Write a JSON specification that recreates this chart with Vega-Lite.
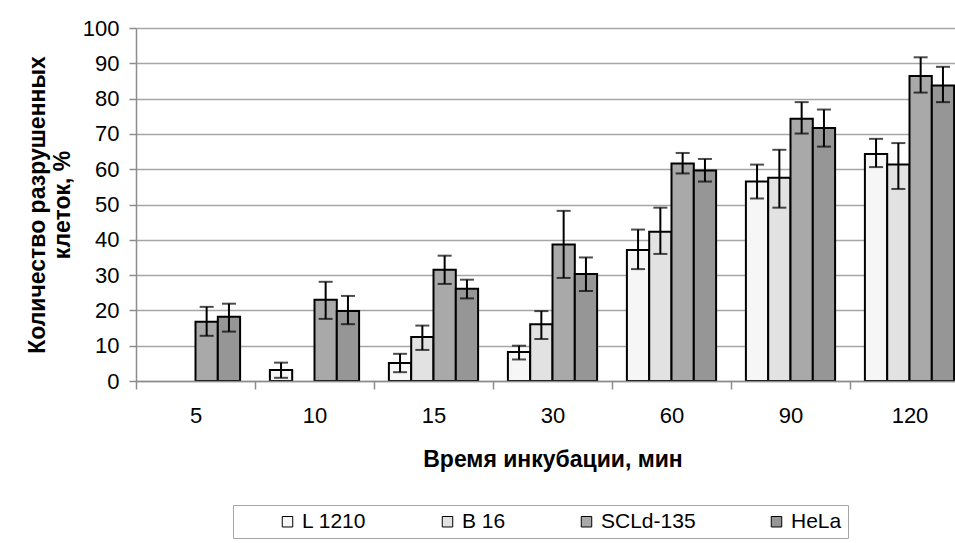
{
  "$schema": "https://vega.github.io/schema/vega-lite/v6.json",
  "width": 819,
  "height": 353,
  "autosize": {"type": "none"},
  "padding": {"left": 136, "top": 28, "right": 0, "bottom": 162},
  "background": "white",
  "config": {
    "font": "Liberation Sans",
    "view": {"stroke": null},
    "axis": {"labelFont": "Liberation Sans", "titleFont": "Liberation Sans", "labelColor": "black", "titleColor": "black"},
    "axisY": {
      "titleFontSize": 23,
      "titleFontWeight": "bold",
      "titlePadding": 8,
      "titleLineHeight": 25,
      "labelFontSize": 22,
      "labelPadding": 10,
      "labelOverlap": false,
      "tickSize": 7,
      "tickColor": "#8c8c8c",
      "tickWidth": 1.5,
      "domainColor": "#8c8c8c",
      "domainWidth": 1.5,
      "gridColor": "#a6a6a6",
      "gridWidth": 1.5
    }
  },
  "data": {
    "values": [
      {"time": 5, "cell": "SCLd-135", "value": 16.8, "lo": 12.8, "hi": 21.0},
      {"time": 5, "cell": "HeLa", "value": 18.2, "lo": 14.0, "hi": 21.9},
      {"time": 10, "cell": "L 1210", "value": 3.1, "lo": 0.9, "hi": 5.2},
      {"time": 10, "cell": "SCLd-135", "value": 23.0, "lo": 17.6, "hi": 28.1},
      {"time": 10, "cell": "HeLa", "value": 19.8, "lo": 16.1, "hi": 24.1},
      {"time": 15, "cell": "L 1210", "value": 5.1, "lo": 2.5, "hi": 7.7},
      {"time": 15, "cell": "B 16", "value": 12.5, "lo": 8.8, "hi": 15.7},
      {"time": 15, "cell": "SCLd-135", "value": 31.5, "lo": 27.5, "hi": 35.5},
      {"time": 15, "cell": "HeLa", "value": 26.1, "lo": 23.4, "hi": 28.7},
      {"time": 30, "cell": "L 1210", "value": 8.2, "lo": 6.1, "hi": 10.0},
      {"time": 30, "cell": "B 16", "value": 16.1, "lo": 11.9, "hi": 19.8},
      {"time": 30, "cell": "SCLd-135", "value": 38.7, "lo": 29.2, "hi": 48.2},
      {"time": 30, "cell": "HeLa", "value": 30.3, "lo": 25.5, "hi": 35.0},
      {"time": 60, "cell": "L 1210", "value": 37.1, "lo": 31.7, "hi": 42.9},
      {"time": 60, "cell": "B 16", "value": 42.3, "lo": 36.0, "hi": 49.1},
      {"time": 60, "cell": "SCLd-135", "value": 61.6, "lo": 58.8, "hi": 64.6},
      {"time": 60, "cell": "HeLa", "value": 59.6, "lo": 56.5, "hi": 62.9},
      {"time": 90, "cell": "L 1210", "value": 56.5, "lo": 51.7, "hi": 61.3},
      {"time": 90, "cell": "B 16", "value": 57.6, "lo": 49.1, "hi": 65.5},
      {"time": 90, "cell": "SCLd-135", "value": 74.3, "lo": 70.1, "hi": 79.0},
      {"time": 90, "cell": "HeLa", "value": 71.7, "lo": 66.4, "hi": 76.9},
      {"time": 120, "cell": "L 1210", "value": 64.3, "lo": 60.6, "hi": 68.6},
      {"time": 120, "cell": "B 16", "value": 61.3, "lo": 54.4, "hi": 67.4},
      {"time": 120, "cell": "SCLd-135", "value": 86.4, "lo": 81.7, "hi": 91.7},
      {"time": 120, "cell": "HeLa", "value": 83.7, "lo": 79.0, "hi": 89.0}
    ]
  },
  "encoding": {
    "x": {
      "field": "time",
      "type": "ordinal",
      "scale": {"range": [0, 833], "paddingInner": 0, "paddingOuter": 0},
      "axis": {
        "title": "Время инкубации, мин",
        "titleFontSize": 23,
        "titleFontWeight": "bold",
        "titlePadding": 22,
        "labelFontSize": 22,
        "labelAngle": 0,
        "labelPadding": 16,
        "tickBand": "extent",
        "tickSize": 8,
        "tickColor": "#8c8c8c",
        "tickWidth": 1.5,
        "domainColor": "#8c8c8c",
        "domainWidth": 1.5,
        "grid": false,
        "zindex": 1
      }
    },
    "xOffset": {
      "field": "cell",
      "type": "nominal",
      "scale": {"domain": ["L 1210", "B 16", "SCLd-135", "HeLa"], "paddingInner": 0, "paddingOuter": 0.668}
    }
  },
  "layer": [
    {
      "mark": {"type": "bar", "stroke": "black", "strokeWidth": 2},
      "encoding": {
        "y": {
          "field": "value",
          "type": "quantitative",
          "scale": {"domain": [0, 100], "nice": false},
          "axis": {"title": ["Количество разрушенных", "клеток, %"], "values": [0, 10, 20, 30, 40, 50, 60, 70, 80, 90, 100]}
        },
        "color": {
          "field": "cell",
          "type": "nominal",
          "scale": {"domain": ["L 1210", "B 16", "SCLd-135", "HeLa"], "range": ["#f6f6f6", "#e2e2e2", "#a9a9a9", "#969696"]},
          "legend": {
            "title": "\u00a0",
            "titleOrient": "left",
            "titlePadding": 38,
            "titleFontSize": 10,
            "orient": "none",
            "legendX": 97,
            "legendY": 477,
            "direction": "horizontal",
            "columns": 4,
            "columnPadding": 70,
            "symbolType": "square",
            "symbolSize": 110,
            "symbolStrokeColor": "black",
            "symbolStrokeWidth": 1,
            "labelFontSize": 21,
            "labelColor": "black",
            "labelOffset": 4,
            "strokeColor": "#a6a6a6",
            "padding": 6
          }
        }
      }
    },
    {
      "mark": {"type": "rule", "stroke": "black", "strokeWidth": 2},
      "encoding": {
        "y": {"field": "lo", "type": "quantitative", "axis": {"title": ["Количество разрушенных", "клеток, %"], "values": [0, 10, 20, 30, 40, 50, 60, 70, 80, 90, 100]}},
        "y2": {"field": "hi"}
      }
    },
    {
      "mark": {"type": "tick", "color": "black", "size": 14, "thickness": 2},
      "encoding": {"y": {"field": "lo", "type": "quantitative", "axis": {"title": ["Количество разрушенных", "клеток, %"], "values": [0, 10, 20, 30, 40, 50, 60, 70, 80, 90, 100]}}}
    },
    {
      "mark": {"type": "tick", "color": "black", "size": 14, "thickness": 2},
      "encoding": {"y": {"field": "hi", "type": "quantitative", "axis": {"title": ["Количество разрушенных", "клеток, %"], "values": [0, 10, 20, 30, 40, 50, 60, 70, 80, 90, 100]}}}
    }
  ]
}
